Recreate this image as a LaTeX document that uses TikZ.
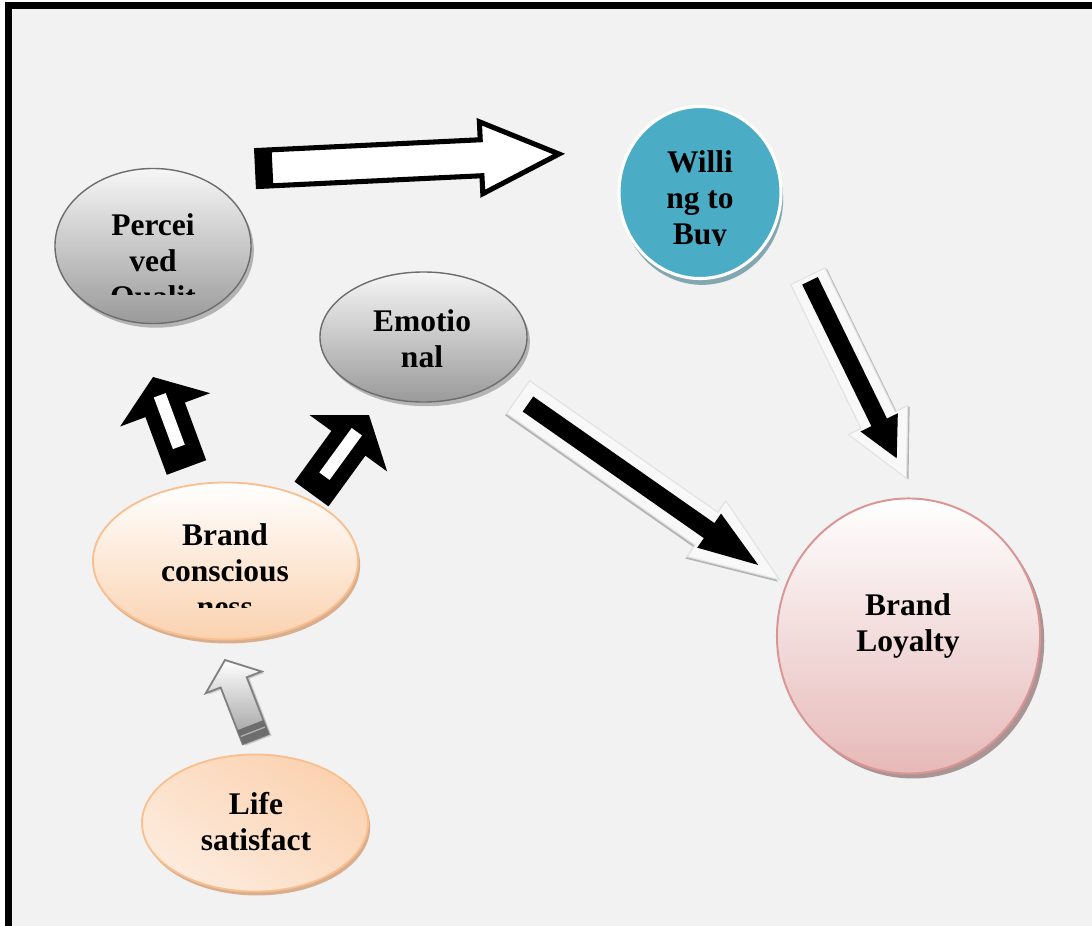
\documentclass[tikz,border=0pt]{standalone}
\usepackage{fontspec}
\setmainfont{Liberation Serif}
\usetikzlibrary{calc,shapes.geometric,shadows}
\definecolor{pageGray}{HTML}{F2F2F2}
\definecolor{ovalTop}{HTML}{F6F6F6}
\definecolor{ovalBottom}{HTML}{9A9A9A}
\definecolor{ovalEdge}{HTML}{6D6D6D}
\definecolor{ovalShadow}{HTML}{B4B4B4}
\definecolor{peachEdge}{HTML}{F9BF8F}
\definecolor{peachFill}{HTML}{FBD2B0}
\definecolor{peachLight}{HTML}{FDEBDD}
\definecolor{peachShadow}{HTML}{D8AE8E}
\definecolor{buyBlue}{HTML}{4BACC6}
\definecolor{buyShadow}{HTML}{83A7B0}
\definecolor{loyalEdge}{HTML}{D99694}
\definecolor{loyalFill}{HTML}{E6B9B8}
\definecolor{loyalShadow}{HTML}{A99595}
\definecolor{arrowGhost}{HTML}{E2E2E2}

% [style]{tail}{tip}{shaft half width}{head half width}{head length}, sizes in px
\newcommand\blockarrow[6][]{%
  \coordinate (ba-base) at ($(#3)!#6*0.025cm!(#2)$);
  \path[#1] ($(#2)!#4*0.025cm!90:(#3)$) -- ($(ba-base)!#4*0.025cm!90:(#3)$)
    -- ($(ba-base)!#5*0.025cm!90:(#3)$) -- (#3)
    -- ($(ba-base)!#5*0.025cm!-90:(#3)$) -- ($(ba-base)!#4*0.025cm!-90:(#3)$)
    -- ($(#2)!#4*0.025cm!-90:(#3)$) -- cycle;}

\begin{document}
\begin{tikzpicture}[
    x=0.025cm, y=-0.025cm,
    oval text/.style={inner sep=0pt, align=center, font=\fontsize{22.4}{25.6}\selectfont\bfseries},
    gray oval/.style={ellipse, inner sep=0pt, draw=ovalEdge, line width=1pt, top color=ovalTop, bottom color=ovalBottom,
      drop shadow={shadow xshift=2pt, shadow yshift=-3pt, fill=ovalShadow, opacity=1}},
    peach oval/.style={ellipse, inner sep=0pt, draw=peachEdge, line width=1.3pt,
      drop shadow={shadow xshift=1.5pt, shadow yshift=-2.8pt, fill=peachShadow, opacity=1}},
    buy circle/.style={ellipse, inner sep=0pt, fill=buyBlue, draw=white, line width=2.2pt,
      drop shadow={shadow xshift=1.5pt, shadow yshift=-4.5pt, fill=buyShadow, opacity=1}},
    loyal circle/.style={ellipse, inner sep=0pt, draw=loyalEdge, line width=1.4pt, top color=white, bottom color=loyalFill,
      drop shadow={shadow xshift=3pt, shadow yshift=-3.5pt, fill=loyalShadow, opacity=1}},
    hollow arrow/.style={fill=white, draw=black, line width=3.6pt, miter limit=20},
    solid arrow/.style={fill=black},
    ghost arrow/.style={fill=white!50!pageGray, draw=arrowGhost, line width=0.8pt},
    gray arrow/.style={draw=gray, line width=1.3pt, top color=white, bottom color=ovalBottom,
      drop shadow={shadow xshift=2pt, shadow yshift=-1pt, fill=ovalShadow, opacity=0.6}}
]
  \useasboundingbox (0,0) rectangle (1092,926);
  \fill[white] (0,0) rectangle (1092,926);
  \fill[pageGray] (8.5,5.5) rectangle (1100,940);
  \draw[line width=4.3pt] (8.5,940) -- (8.5,5.5) -- (1100,5.5);

  \node[gray oval, minimum width=4.9cm, minimum height=3.875cm] (perc) at (153,246) {};
  \node[gray oval, minimum width=5.175cm, minimum height=3.25cm] (emot) at (423.5,337) {};
  \node[buy circle, minimum width=4.05cm, minimum height=4.3cm] (buy) at (700,192.5) {};
  \node[peach oval, top color=white, bottom color=peachFill, minimum width=6.625cm, minimum height=3.925cm] (brandc) at (225.5,561) {};
  \node[peach oval, top color=peachFill, bottom color=peachLight, shading angle=-35, minimum width=5.65cm, minimum height=3.425cm] (life) at (255,823) {};
  \node[loyal circle, minimum width=6.575cm, minimum height=6.875cm] (loyal) at (908.5,636) {};

  \begin{scope}
    \clip (0,0) rectangle (1092,294);
    \node[oval text] (perc text) at (153,263) {Percei\\ved\\Qualit};
  \end{scope}
  \node[oval text] (emot text) at (422,339) {Emotio\\nal};
  \begin{scope}
    \clip (0,0) rectangle (1092,245);
    \node[oval text] (buy text) at (700,200.5) {Willi\\ng to\\Buy};
  \end{scope}
  \begin{scope}
    \clip (0,0) rectangle (1092,607);
    \node[oval text] (brandc text) at (225,571) {Brand\\conscious\\ness};
  \end{scope}
  \node[oval text] (life text) at (256,822) {Life\\satisfact};
  \node[oval text] (loyal text) at (908,625.5) {Brand\\Loyalty};

  \coordinate (pw-tail) at (257.5,168.5);
  \coordinate (pw-tip) at (559,154);
  \coordinate (bp-tail) at (186.5,467.5);
  \coordinate (bp-tip) at (153,377);
  \coordinate (be-tail) at (311.5,494);
  \coordinate (be-tip) at (369,415);
  \coordinate (lb-tail) at (255.8,739.2);
  \coordinate (lb-tip) at (225,660);
  \coordinate (el-tail) at (528,404);
  \coordinate (el-tip) at (758.3,565);
  \coordinate (wl-tail) at (810,280.8);
  \coordinate (wl-tip) at (896.7,458.3);

  \blockarrow[hollow arrow]{pw-tail}{pw-tip}{18}{36}{78}
  \coordinate (pw-bar) at ($(pw-tail)!15*0.025cm!(pw-tip)$);
  \fill ($(pw-tail)!20*0.025cm!90:(pw-tip)$) -- ($(pw-bar)!20*0.025cm!90:(pw-tip)$)
    -- ($(pw-bar)!20*0.025cm!-90:(pw-tip)$) -- ($(pw-tail)!20*0.025cm!-90:(pw-tip)$) -- cycle;

  \blockarrow[solid arrow]{bp-tail}{bp-tip}{21}{48}{35}
  \draw[white, line width=9pt] ($(bp-tail)!22*0.025cm!(bp-tip)$) -- ($(bp-tail)!77*0.025cm!(bp-tip)$);
  \blockarrow[solid arrow]{be-tail}{be-tip}{21}{48}{35}
  \draw[white, line width=9pt] ($(be-tail)!22*0.025cm!(be-tip)$) -- ($(be-tail)!77*0.025cm!(be-tip)$);

  \blockarrow[gray arrow]{lb-tail}{lb-tip}{14}{30}{24}
  \coordinate (lb-bar) at ($(lb-tail)!15*0.025cm!(lb-tip)$);
  \fill[ovalEdge] ($(lb-tail)!14*0.025cm!90:(lb-tip)$) -- ($(lb-bar)!14*0.025cm!90:(lb-tip)$)
    -- ($(lb-bar)!14*0.025cm!-90:(lb-tip)$) -- ($(lb-tail)!14*0.025cm!-90:(lb-tip)$) -- cycle;
  \coordinate (lb-line) at ($(lb-tail)!8*0.025cm!(lb-tip)$);
  \draw[gray!60, line width=0.9pt] ($(lb-line)!13*0.025cm!90:(lb-tip)$) -- ($(lb-line)!13*0.025cm!-90:(lb-tip)$);

  \coordinate (el-ghost) at ($(el-tail)!-12*0.025cm!(el-tip)$);
  \coordinate (el-ghost tip) at ($(el-tail)!306.7*0.025cm!(el-tip)$);
  \blockarrow[ghost arrow, drop shadow={shadow xshift=-1.1pt, shadow yshift=-1.4pt, fill=ovalShadow, opacity=1}]{el-ghost}{el-ghost tip}{20}{34}{89}
  \blockarrow[solid arrow]{el-tail}{el-tip}{9.2}{20.8}{60}

  \coordinate (wl-ghost) at ($(wl-tail)!-5*0.025cm!(wl-tip)$);
  \coordinate (wl-ghost tip) at ($(wl-tail)!220*0.025cm!(wl-tip)$);
  \blockarrow[ghost arrow, drop shadow={shadow xshift=1.4pt, shadow yshift=-0.6pt, fill=ovalShadow, opacity=1}]{wl-ghost}{wl-ghost tip}{19}{33}{65}
  \blockarrow[solid arrow]{wl-tail}{wl-tip}{8.7}{20.8}{40}
\end{tikzpicture}
\end{document}
